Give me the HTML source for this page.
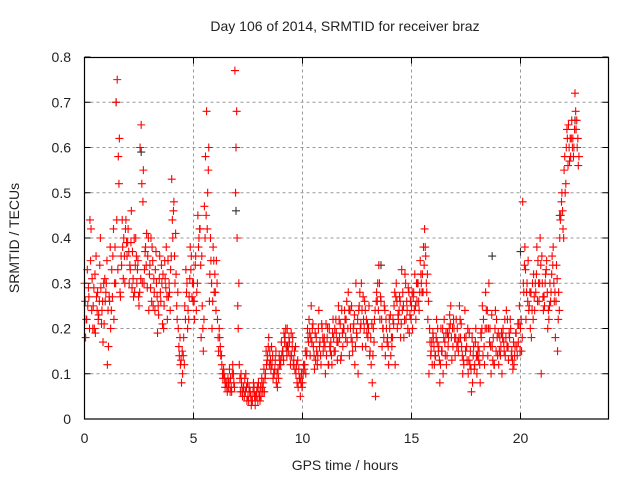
<!DOCTYPE html>
<html><head><meta charset="utf-8"><style>
body{margin:0;background:#fff;width:640px;height:480px;overflow:hidden}
svg text{font-family:"Liberation Sans","DejaVu Sans",sans-serif;fill:#222}
</style></head><body>
<svg id="chart" width="640" height="480" xmlns="http://www.w3.org/2000/svg">
<rect width="640" height="480" fill="#fff"/>
<text x="345" y="31" font-size="14" text-anchor="middle">Day 106 of 2014, SRMTID for receiver braz</text>
<text x="345" y="470" font-size="14" text-anchor="middle">GPS time / hours</text>
<text x="19" y="238" font-size="14" text-anchor="middle" transform="rotate(-90 19 238)">SRMTID / TECUs</text>
<g id="grid"></g>
<g id="ticks"></g>
<g id="marks"></g>
<rect x="84.5" y="57.5" width="524" height="361.5" fill="none" stroke="#000" stroke-width="1.2"/>
</svg>
<script>
const xTicks=[0,5,10,15,20];
const yTicks=[0,0.1,0.2,0.3,0.4,0.5,0.6,0.7,0.8];
const yTickLabels=["0","0.1","0.2","0.3","0.4","0.5","0.6","0.7","0.8"];
const seriesA=[30,22,27,42,25,19,28,34,24,21,30,16,20,36,38,75,62,34,40,44,42,33,37,28,30,25,65,55,38,36,34,38,28,30,23,26,32,31,22,28,53,48,32,20,12,10,25,30,27,36,30,36,45,42,25,47,68,60,35,38,28,22,18,12,10,8,7,9,12,77,40,12,8,7,10,5,6,4,5,6,6,5,8,10,14,15,12,10,8,9,12,15,18,20,17,14,13,10,7,5,8,12,15,22,25,16,13,14,17,20,18,14,12,17,22,15,13,18,24,20,22,28,20,15,12,18,25,30,22,16,18,15,8,22,28,34,26,20,14,18,20,16,25,30,22,18,28,32,24,19,25,28,22,30,35,32,42,28,10,15,18,14,20,8,15,22,12,18,25,16,14,20,25,16,12,18,10,15,8,12,10,15,18,22,28,14,20,16,12,22,12,16,20,14,22,18,15,12,19,17,20,48,38,30,25,18,32,28,35,40,30,25,35,22,28,38,18,15,40,50,55,60,65,58,62,72,60];
const seriesB=[18,25,44,31,20,27,23,29,17,26,12,26,33,22,70,58,27,38,30,36,30,46,27,40,35,60,30,33,41,24,40,25,33,19,36,30,25,38,27,33,40,30,22,14,8,18,33,24,38,30,22,28,40,18,15,58,50,32,20,28,35,15,14,9,7,6,11,6,8,60,20,6,5,9,4,7,3,8,5,4,4,7,6,12,18,11,9,13,7,12,14,19,16,15,12,18,11,8,9,10,12,10,18,14,20,11,15,24,12,15,10,20,16,12,15,19,25,13,16,22,17,14,25,21,30,10,20,16,26,19,25,12,20,5,30,22,16,25,20,12,14,22,12,20,27,33,18,22,29,26,20,32,26,24,30,38,36,22,17,12,12,22,16,20,10,14,19,23,13,20,22,15,18,10,24,13,19,6,16,20,16,8,25,12,20,30,10,18,24,14,18,10,15,24,13,20,11,16,14,25,15,28,22,35,20,30,24,38,26,10,24,32,20,30,36,26,34,28,45,42,50,62,57,66,60,64,56];
const seriesC=[26,33,20,24,29,36,22,40,26,31,35,27,24,42,30,33,28,44,36,39,37,39,31,34,33,28,52,30,34,40,29,35,24,27,31,34,20,29,35,24,44,36,25,16,13,14,22,20,31,27,26,24,38,34,20,40,42,26,30,35,24,18,16,10,9,7,8,7,10,50,25,9,6,5,7,4,5,6,3,7,5,9,11,15,16,13,14,11,10,14,17,13,20,16,14,16,15,12,11,8,10,15,20,19,17,14,18,20,14,18,16,18,20,14,18,22,17,21,19,24,26,24,18,20,16,22,28,24,20,22,20,18,14,24,26,30,22,18,22,16,23,18,28,26,24,21,25,30,20,23,28,24,30,26,32,28,38,32,20,17,16,18,15,12,20,17,14,20,18,22,18,17,22,14,18,16,13,11,14,17,14,12,20,16,24,20,16,13,20,18,15,19,17,18,16,22,13,14,16,21,22,30,33,26,28,24,27,32,30,34,27,30,28,25,32,30,26,22,44,46,58,64,60,62,58,68,62];
const seriesD=[22,29,35,20,32,24,26,21,30,28,24,38,27,30,44,52,36,31,42,39,34,29,40,36,27,31,48,37,29,32,26,31,37,25,28,21,35,27,30,36,46,41,28,18,15,12,28,22,33,26,34,30,42,36,22,45,55,40,26,32,30,20,14,11,8,9,6,10,7,68,30,10,7,6,8,6,4,7,5,8,7,6,9,13,12,16,10,15,11,13,15,17,14,18,19,12,16,13,9,7,11,14,17,18,21,19,12,16,21,17,21,12,15,19,20,17,22,14,20,18,20,24,17,23,19,24,21,27,24,21,14,21,17,26,24,27,20,24,17,22,18,21,27,23,26,24,22,26,28,22,27,25,30,28,28,34,30,26,14,19,14,17,13,15,18,19,16,21,20,18,16,18,21,13,15,20,12,18,11,14,13,19,14,20,24,17,23,12,15,19,14,18,22,16,19,14,17,19,21,15,18,34,28,24,28,22,30,26,30,36,27,33,24,26,34,28,31,24,48,40,52,56,62,60,64,66,58];
const darkT=[1.45,2.6,6.95,9.3,13.6,18.7,20.0,21.8,22.5];
const darkV=[0.70,0.59,0.46,0.16,0.34,0.36,0.37,0.45,0.66];

const X=t=>84.5+t*21.8;
const Y=v=>419-v*452.5;
const NS="http://www.w3.org/2000/svg";
const grid=document.getElementById('grid'),ticks=document.getElementById('ticks'),marks=document.getElementById('marks');
function mk(tag,attrs,parent){const e=document.createElementNS(NS,tag);for(const k in attrs)e.setAttribute(k,attrs[k]);parent.appendChild(e);return e;}
xTicks.forEach(t=>{
  if(t>0){const g=mk('line',{x1:X(t),x2:X(t),y1:57.5,y2:419,stroke:'#999','stroke-dasharray':'3,3'},grid);
  
  }
  mk('line',{x1:X(t),x2:X(t),y1:419,y2:413,stroke:'#000'},ticks);
  mk('line',{x1:X(t),x2:X(t),y1:57.5,y2:63.5,stroke:'#000'},ticks);
  const l=mk('text',{x:X(t),y:443,'font-size':14,'text-anchor':'middle'},ticks);l.textContent=t;
  
  
});
yTicks.forEach((v,i)=>{
  if(v>0&&v<0.8){const g=mk('line',{x1:84.5,x2:608.5,y1:Y(v),y2:Y(v),stroke:'#999','stroke-dasharray':'3,3'},grid);
  
  }
  mk('line',{x1:84.5,x2:90.5,y1:Y(v),y2:Y(v),stroke:'#000'},ticks);
  mk('line',{x1:602.5,x2:608.5,y1:Y(v),y2:Y(v),stroke:'#000'},ticks);
  const l=mk('text',{x:71,y:Y(v)+5,'font-size':14,'text-anchor':'end'},ticks);l.textContent=yTickLabels[i];
  
  
});
function plus(t,v,col){
  const x=X(t),y=Y(v);
  const p=mk('path',{d:`M${x-4} ${y}H${x+4}M${x} ${y-4}V${y+4}`,stroke:col,'stroke-width':1.1,fill:'none'},marks);
  
  
}
darkT.forEach((t,i)=>plus(t,darkV[i],'#333'));
seriesA.forEach((v,i)=>plus(i*0.1,v/100,'#f00'));
seriesB.forEach((v,i)=>plus(i*0.1+0.05,v/100,'#f00'));
seriesC.forEach((v,i)=>plus(i*0.1+0.03,v/100,'#f00'));
seriesD.forEach((v,i)=>plus(i*0.1+0.08,v/100,'#f00'));
</script>
</body></html>
